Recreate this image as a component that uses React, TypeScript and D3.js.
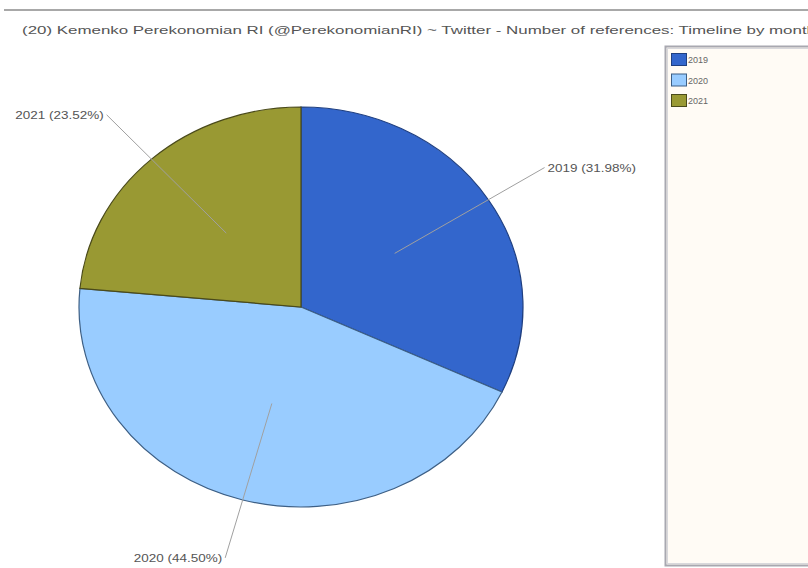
import React from "react";
import * as d3 from "d3";

const years = ["2019", "2020", "2021"];
const shares = [31.98, 44.5, 23.52];
const colors = ["#3366CC", "#99CCFF", "#999933"];
const strokes = ["#1f3f80", "#3d5f85", "#4a4a1a"];
const title =
  "(20) Kemenko Perekonomian RI (@PerekonomianRI) ~ Twitter - Number of references: Timeline by month";

const W = 808;
const H = 568;
const cx = 301;
const cy = 307;
const R = 200;
const sx = 1.11;

export default function App() {
  const pie = d3
    .pie<number>()
    .sort(null)
    .value((d) => d)
    .startAngle(0)
    .endAngle(2 * Math.PI);
  const arcs = pie(shares);
  const arc = d3.arc<d3.PieArcDatum<number>>().innerRadius(0).outerRadius(R);
  const pt = (a: number, k: number) => [
    cx + Math.sin(a) * R * k * sx,
    cy - Math.cos(a) * R * k,
  ];

  return (
    <svg
      width={W}
      height={H}
      style={{ position: "absolute", left: 0, top: 0, background: "#fff" }}
      fontFamily="Liberation Sans, Arial, sans-serif"
    >
      <line x1={4} x2={W} y1={10} y2={10} stroke="#a8a8a8" strokeWidth={2} />
      <text
        x={22}
        y={34}
        fontSize={11.5}
        fill="#555"
        textLength={794}
        lengthAdjust="spacingAndGlyphs"
      >
        {title}
      </text>

      <g transform={`translate(${cx},${cy}) scale(${sx},1)`}>
        {arcs.map((a, i) => (
          <path
            key={years[i]}
            d={arc(a) || ""}
            fill={colors[i]}
            stroke={strokes[i]}
            strokeWidth={1.2}
            vectorEffect="non-scaling-stroke"
          />
        ))}
      </g>

      {arcs.map((a, i) => {
        const m = (a.startAngle + a.endAngle) / 2;
        const [x0, y0] = pt(m, 0.5);
        const [x1, y1] = pt(m, 1.3);
        const right = x1 > cx;
        const label = `${years[i]} (${shares[i].toFixed(2)}%)`;
        return (
          <g key={"l" + years[i]}>
            <line x1={x0} y1={y0} x2={x1} y2={y1} stroke="#a0a0a0" strokeWidth={1} />
            <text
              x={right ? x1 + 3 : x1 - 3}
              y={y1 + 4}
              fontSize={10.5}
              fill="#555"
              textAnchor={right ? "start" : "end"}
              textLength={label.length * 6.8}
              lengthAdjust="spacingAndGlyphs"
            >
              {label}
            </text>
          </g>
        );
      })}

      <rect x={665.5} y={46.5} width={160} height={519} fill="#FFFBF5" stroke="#a8a8b0" strokeWidth={2} />
      <rect x={667.5} y={48.5} width={160} height={515} fill="none" stroke="#d8d8dc" strokeWidth={1} />
      {years.map((y, i) => (
        <g key={"lg" + y}>
          <rect
            x={671.5}
            y={53.5 + i * 20.5}
            width={15}
            height={12}
            fill={colors[i]}
            stroke={strokes[i]}
            strokeWidth={1}
          />
          <text x={688} y={63 + i * 20.5} fontSize={9} fill="#666">
            {y}
          </text>
        </g>
      ))}
    </svg>
  );
}
